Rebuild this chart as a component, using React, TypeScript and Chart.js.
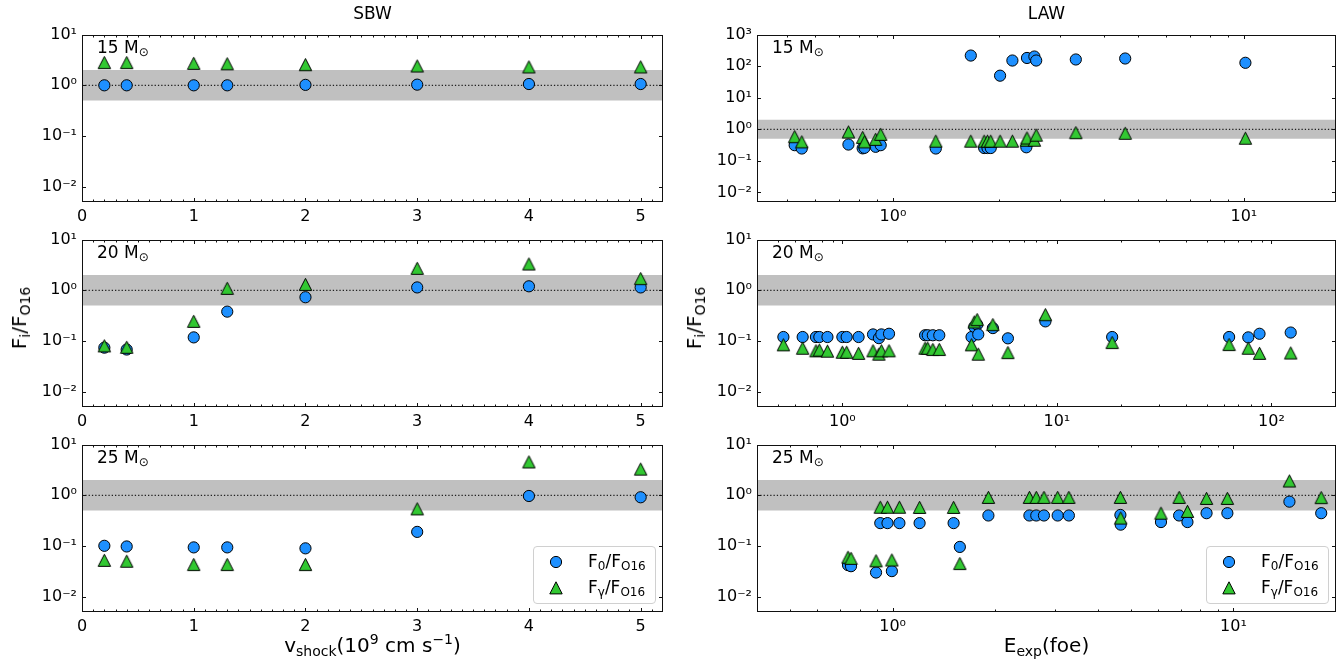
import React, { useEffect, useRef } from 'react';
import { Chart, registerables } from 'chart.js';

Chart.register(...registerables);

// ---------------- data ----------------
const vShock = [0.2, 0.4, 1.0, 1.3, 2.0, 3.0, 4.0, 5.0];
const sbw15F0 = [1.0, 1.0, 1.0, 1.0, 1.02, 1.03, 1.06, 1.06];
const sbw15Fg = [2.8, 2.8, 2.7, 2.65, 2.55, 2.4, 2.3, 2.3];
const sbw20F0 = [0.074, 0.068, 0.118, 0.38, 0.73, 1.14, 1.2, 1.14];
const sbw20Fg = [0.08, 0.075, 0.244, 1.09, 1.3, 2.7, 3.3, 1.7];
const sbw25F0 = [0.101, 0.098, 0.094, 0.094, 0.09, 0.19, 0.97, 0.915];
const sbw25Fg = [0.052, 0.05, 0.043, 0.043, 0.043, 0.54, 4.55, 3.28];

const law15E = [0.525, 0.55, 0.747, 0.82, 0.83, 0.893, 0.923, 1.325, 1.667, 1.82, 1.86, 1.9, 2.02, 2.19, 2.4, 2.41, 2.53, 2.56, 3.32, 4.59, 10.1];
const law15F0 = [0.315, 0.247, 0.33, 0.25, 0.26, 0.28, 0.315, 0.247, 217, 0.256, 0.256, 0.256, 50, 151, 0.27, 182, 202, 151, 163, 175, 128];
const law15Fg = [0.585, 0.4, 0.82, 0.55, 0.4, 0.48, 0.69, 0.42, 0.42, 0.42, 0.42, 0.42, 0.42, 0.42, 0.45, 0.53, 0.45, 0.65, 0.78, 0.745, 0.52];

const law20E = [0.531, 0.653, 0.753, 0.781, 0.852, 1.0, 1.047, 1.19, 1.39, 1.48, 1.52, 1.65, 2.43, 2.5, 2.64, 2.83, 4.0, 4.12, 4.25, 4.3, 5.03, 5.91, 8.84, 18.1, 63.5, 78, 88, 123];
const law20F0 = [0.12, 0.12, 0.12, 0.12, 0.12, 0.12, 0.12, 0.12, 0.135, 0.114, 0.135, 0.139, 0.13, 0.13, 0.13, 0.13, 0.12, 0.19, 0.21, 0.135, 0.18, 0.113, 0.244, 0.12, 0.12, 0.118, 0.139, 0.147];
const law20Fg = [0.084, 0.072, 0.064, 0.066, 0.063, 0.06, 0.06, 0.057, 0.064, 0.055, 0.064, 0.064, 0.072, 0.072, 0.068, 0.068, 0.084, 0.237, 0.264, 0.055, 0.21, 0.059, 0.33, 0.093, 0.085, 0.072, 0.057, 0.058];

const law25E = [0.74, 0.755, 0.894, 0.92, 0.966, 0.995, 1.047, 1.2, 1.51, 1.575, 1.91, 2.52, 2.64, 2.78, 3.05, 3.29, 4.66, 4.67, 6.13, 6.93, 7.33, 8.34, 9.6, 14.6, 18.1];
const law25F0 = [0.042, 0.04, 0.03, 0.283, 0.283, 0.032, 0.283, 0.283, 0.283, 0.096, 0.4, 0.4, 0.4, 0.4, 0.4, 0.4, 0.41, 0.264, 0.297, 0.4, 0.297, 0.444, 0.444, 0.75, 0.444];
const law25Fg = [0.06, 0.057, 0.051, 0.58, 0.58, 0.053, 0.58, 0.575, 0.575, 0.045, 0.906, 0.906, 0.906, 0.906, 0.906, 0.906, 0.906, 0.355, 0.444, 0.906, 0.48, 0.867, 0.867, 1.91, 0.9];

const bandLow = 0.5;
const bandHigh = 2;
const refLevel = 1;

const linearTickValues = [0, 1, 2, 3, 4, 5];
const linearTickLabels = ['0', '1', '2', '3', '4', '5'];
const logTickExps = [-2, -1, 0, 1, 2, 3];
const logTickLabels = ['10⁻²', '10⁻¹', '10⁰', '10¹', '10²', '10³'];

const columnTitles = ['SBW', 'LAW'];
const massLabels = ['15', '20', '25'];

// ---------------- style ----------------
const FONT = "'DejaVu Sans', sans-serif";
const BLUE = '#1e90ff';
const GREEN = '#32c832';
const BAND = '#c0c0c0';
const LY = 80;
const LX = 34;
const PT = 12;
const PR = 12;
const PLOT_H = 170;
const COL_LEFT = [82, 757];
const COL_WIDTH = [581, 579];
const ROW_TOP = [32, 237, 442];

interface PanelSpec {
  key: string;
  col: number;
  row: number;
  xLog: boolean;
  xMin: number;
  xMax: number;
  yMin: number;
  yMax: number;
  xs: number[];
  f0: number[];
  fg: number[];
}

const panels: PanelSpec[] = [
  { key: 'sbw15', col: 0, row: 0, xLog: false, xMin: 0, xMax: 5.2, yMin: 0.005, yMax: 10, xs: vShock, f0: sbw15F0, fg: sbw15Fg },
  { key: 'sbw20', col: 0, row: 1, xLog: false, xMin: 0, xMax: 5.2, yMin: 0.005, yMax: 10, xs: vShock, f0: sbw20F0, fg: sbw20Fg },
  { key: 'sbw25', col: 0, row: 2, xLog: false, xMin: 0, xMax: 5.2, yMin: 0.005, yMax: 10, xs: vShock, f0: sbw25F0, fg: sbw25Fg },
  { key: 'law15', col: 1, row: 0, xLog: true, xMin: 0.41, xMax: 18.3, yMin: 0.005, yMax: 1000, xs: law15E, f0: law15F0, fg: law15Fg },
  { key: 'law20', col: 1, row: 1, xLog: true, xMin: 0.4, xMax: 200, yMin: 0.005, yMax: 10, xs: law20E, f0: law20F0, fg: law20Fg },
  { key: 'law25', col: 1, row: 2, xLog: true, xMin: 0.4, xMax: 20, yMin: 0.005, yMax: 10, xs: law25E, f0: law25F0, fg: law25Fg },
];

function logLabel(v: number): string {
  const e = Math.log10(Number(v));
  const r = Math.round(e);
  if (Math.abs(e - r) > 1e-6) return '';
  const i = logTickExps.indexOf(r);
  return i >= 0 ? logTickLabels[i] : '';
}

function linLabel(v: number): string {
  const i = linearTickValues.findIndex((t) => Math.abs(t - Number(v)) < 1e-9);
  return i >= 0 ? linearTickLabels[i] : '';
}

function logMajors(min: number, max: number): number[] {
  const out: number[] = [];
  for (let e = Math.floor(Math.log10(min)); e <= Math.ceil(Math.log10(max)); e++) {
    const v = Math.pow(10, e);
    if (v >= min * 0.9999 && v <= max * 1.0001) out.push(v);
  }
  return out;
}

function logMinors(min: number, max: number): number[] {
  const out: number[] = [];
  for (let e = Math.floor(Math.log10(min)); e <= Math.ceil(Math.log10(max)); e++) {
    for (let k = 2; k <= 9; k++) {
      const v = k * Math.pow(10, e);
      if (v >= min && v <= max) out.push(v);
    }
  }
  return out;
}

function linMinors(min: number, max: number): number[] {
  const out: number[] = [];
  for (let i = Math.ceil(min * 10); i <= Math.floor(max * 10); i++) {
    if (i % 10 !== 0) out.push(i / 10);
  }
  return out;
}

function makeTicksPlugin(xMaj: number[], xMin: number[], yMaj: number[]) {
  return {
    id: 'inwardTicks',
    afterDatasetsDraw(chart: any) {
      const { ctx, chartArea } = chart;
      const sx = chart.scales.x;
      const sy = chart.scales.y;
      const x0 = Math.round(chartArea.left) + 0.5;
      const x1 = Math.round(chartArea.right) - 0.5;
      const y0 = Math.round(chartArea.top) + 0.5;
      const y1 = Math.round(chartArea.bottom) - 0.5;
      ctx.save();
      ctx.strokeStyle = '#111';
      ctx.lineWidth = 1;
      ctx.beginPath();
      const vx = (vals: number[], len: number) => {
        vals.forEach((v) => {
          const p = Math.round(sx.getPixelForValue(v)) + 0.5;
          if (p < x0 - 0.1 || p > x1 + 0.1) return;
          ctx.moveTo(p, y1);
          ctx.lineTo(p, y1 - len);
          ctx.moveTo(p, y0);
          ctx.lineTo(p, y0 + len);
        });
      };
      vx(xMaj, 3.5);
      vx(xMin, 2);
      yMaj.forEach((v) => {
        const p = Math.round(sy.getPixelForValue(v)) + 0.5;
        if (p < y0 - 0.1 || p > y1 + 0.1) return;
        ctx.moveTo(x0, p);
        ctx.lineTo(x0 + 3.5, p);
        ctx.moveTo(x1, p);
        ctx.lineTo(x1 - 3.5, p);
      });
      ctx.stroke();
      ctx.strokeRect(x0, y0, x1 - x0, y1 - y0);
      ctx.restore();
    },
  };
}

function makeTriangle(): HTMLCanvasElement {
  const c = document.createElement('canvas');
  c.width = 15;
  c.height = 15;
  const g = c.getContext('2d')!;
  g.beginPath();
  g.moveTo(7.5, 1.3);
  g.lineTo(1.3, 13.4);
  g.lineTo(13.7, 13.4);
  g.closePath();
  g.fillStyle = GREEN;
  g.fill();
  g.lineWidth = 1;
  g.strokeStyle = '#000';
  g.stroke();
  return c;
}

function Panel({ spec }: { spec: PanelSpec }) {
  const ref = useRef<HTMLCanvasElement>(null);
  const w = LY + COL_WIDTH[spec.col] + PR;
  const h = PT + PLOT_H + LX;
  const left = COL_LEFT[spec.col] - LY;
  const top = ROW_TOP[spec.row] - PT;

  useEffect(() => {
    const tri = makeTriangle();
    const pts = (ys: number[]) => spec.xs.map((x, i) => ({ x, y: ys[i] }));
    const tickFont = { family: FONT, size: 16 };
    const xMaj = spec.xLog ? logMajors(spec.xMin, spec.xMax) : linearTickValues;
    const xMin = spec.xLog ? logMinors(spec.xMin, spec.xMax) : linMinors(spec.xMin, spec.xMax);
    const yMaj = logMajors(spec.yMin, spec.yMax);
    const chart = new Chart(ref.current as HTMLCanvasElement, {
      type: 'scatter',
      data: {
        datasets: [
          {
            type: 'line',
            data: [{ x: spec.xMin, y: bandHigh }, { x: spec.xMax, y: bandHigh }],
            fill: { value: bandLow },
            backgroundColor: BAND,
            borderColor: 'rgba(0,0,0,0)',
            borderWidth: 0,
            pointRadius: 0,
            order: 4,
          } as any,
          {
            type: 'line',
            data: [{ x: spec.xMin, y: refLevel }, { x: spec.xMax, y: refLevel }],
            fill: false,
            borderColor: '#222',
            borderWidth: 1.2,
            borderDash: [1.3, 2],
            pointRadius: 0,
            order: 3,
          } as any,
          {
            label: 'F0/FO16',
            data: pts(spec.f0),
            pointStyle: 'circle',
            pointRadius: 5.6,
            backgroundColor: BLUE,
            borderColor: '#000',
            borderWidth: 1,
            order: 2,
          } as any,
          {
            label: 'Fγ/FO16',
            data: pts(spec.fg),
            pointStyle: tri,
            pointRadius: 7,
            backgroundColor: GREEN,
            borderColor: '#000',
            borderWidth: 1,
            order: 1,
          } as any,
        ],
      },
      options: {
        responsive: false,
        animation: false,
        events: [],
        layout: { padding: { top: PT, right: PR, left: 0, bottom: 0 } },
        plugins: { legend: { display: false }, tooltip: { enabled: false } },
        scales: {
          x: {
            type: spec.xLog ? 'logarithmic' : 'linear',
            min: spec.xMin,
            max: spec.xMax,
            grid: { display: false, drawTicks: false },
            border: { display: false },
            ticks: {
              color: '#000',
              font: tickFont,
              padding: 5,
              autoSkip: false,
              maxRotation: 0,
              minRotation: 0,
              includeBounds: false,
              ...(spec.xLog ? {} : { stepSize: 1 }),
              callback: (v: any) => (spec.xLog ? logLabel(v) : linLabel(v)),
            },
            afterFit: (sc: any) => {
              sc.height = LX;
            },
          } as any,
          y: {
            type: 'logarithmic',
            min: spec.yMin,
            max: spec.yMax,
            grid: { display: false, drawTicks: false },
            border: { display: false },
            ticks: {
              color: '#000',
              font: tickFont,
              padding: 5,
              autoSkip: false,
              callback: (v: any) => logLabel(v),
            },
            afterFit: (sc: any) => {
              sc.width = LY;
            },
          } as any,
        },
      },
      plugins: [makeTicksPlugin(xMaj, xMin, yMaj)],
    } as any);
    return () => chart.destroy();
  }, []);

  return (
    <canvas
      ref={ref}
      width={w}
      height={h}
      style={{ position: 'absolute', left, top, width: w, height: h, zIndex: 1 }}
    />
  );
}

const textBase: React.CSSProperties = {
  position: 'absolute',
  fontFamily: FONT,
  color: '#000',
  whiteSpace: 'nowrap',
  zIndex: 3,
};
const sz = (size: number): React.CSSProperties => ({ ...textBase, fontSize: size, lineHeight: `${size}px` });
const sub = (size: number, drop: number): React.CSSProperties => ({ fontSize: size, lineHeight: 0, verticalAlign: `-${drop}px` });
const sup = (size: number, rise: number): React.CSSProperties => ({ fontSize: size, lineHeight: 0, verticalAlign: `${rise}px` });

function LegendBox({ left }: { left: number }) {
  const top = 546;
  return (
    <div
      style={{
        position: 'absolute',
        left,
        top,
        width: 123,
        height: 58,
        boxSizing: 'border-box',
        border: '1px solid #d0d0d0',
        borderRadius: 4,
        background: 'rgba(255,255,255,0.85)',
        zIndex: 2,
      }}
    >
      <svg width={16} height={16} style={{ position: 'absolute', left: 14, top: 7 }}>
        <circle cx={8} cy={8} r={5.6} fill={BLUE} stroke="#000" strokeWidth={1} />
      </svg>
      <svg width={16} height={16} style={{ position: 'absolute', left: 14, top: 33 }}>
        <polygon points="8,1.8 1.8,13.9 14.2,13.9" fill={GREEN} stroke="#000" strokeWidth={1} />
      </svg>
      <div style={{ ...sz(17), left: 54, top: 6 }}>
        F<span style={sub(12, 3)}>0</span>/F<span style={sub(12, 3)}>O16</span>
      </div>
      <div style={{ ...sz(17), left: 54, top: 32 }}>
        F<span style={sub(12, 3)}>γ</span>/F<span style={sub(12, 3)}>O16</span>
      </div>
    </div>
  );
}

export default function App() {
  return (
    <div style={{ position: 'absolute', left: 0, top: 0, width: 1343, height: 659, background: '#fff', overflow: 'hidden' }}>
      {panels.map((p) => (
        <Panel key={p.key} spec={p} />
      ))}
      {columnTitles.map((t, i) => (
        <div key={t} style={{ ...sz(17), left: COL_LEFT[i], width: COL_WIDTH[i], top: 5, textAlign: 'center' }}>
          {t}
        </div>
      ))}
      {[0, 1].map((c) =>
        massLabels.map((m, r) => (
          <div key={`${c}-${m}`} style={{ ...sz(17), left: COL_LEFT[c] + 15, top: ROW_TOP[r] + 6.5 }}>
            {m} M<span style={sub(12, 3)}>⊙</span>
          </div>
        ))
      )}
      {[19, 694].map((cx) => (
        <div
          key={cx}
          style={{ ...sz(20), left: cx, top: 318, transform: 'translate(-50%, -50%) rotate(-90deg)' }}
        >
          F<span style={sub(14, 4)}>i</span>/F<span style={sub(14, 4)}>O16</span>
        </div>
      ))}
      <div style={{ ...sz(20), left: COL_LEFT[0], width: COL_WIDTH[0], top: 635, textAlign: 'center' }}>
        v<span style={sub(14, 4)}>shock</span>(10<span style={sup(14, 8)}>9</span> cm s<span style={sup(14, 8)}>−1</span>)
      </div>
      <div style={{ ...sz(20), left: COL_LEFT[1], width: COL_WIDTH[1], top: 635, textAlign: 'center' }}>
        E<span style={sub(14, 4)}>exp</span>(foe)
      </div>
      <LegendBox left={COL_LEFT[0] + COL_WIDTH[0] - 7 - 123} />
      <LegendBox left={COL_LEFT[1] + COL_WIDTH[1] - 7 - 123} />
    </div>
  );
}
